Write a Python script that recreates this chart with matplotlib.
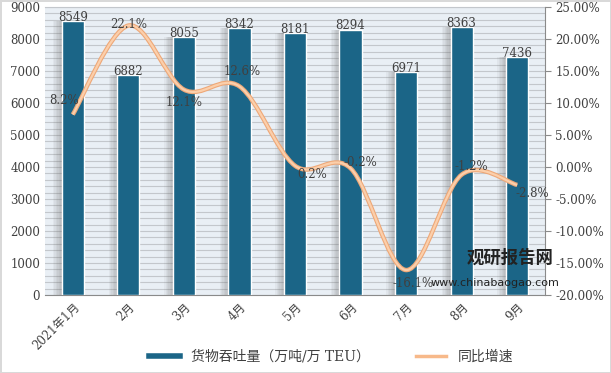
import numpy as np
import matplotlib.pyplot as plt
from matplotlib.path import Path
from matplotlib.patches import PathPatch
from matplotlib.ticker import MultipleLocator, FuncFormatter
from matplotlib.lines import Line2D

plt.rcParams['font.family'] = ['DejaVu Serif', 'Noto Sans CJK SC']

# data
months = ["2021年1月", "2月", "3月", "4月", "5月", "6月", "7月", "8月", "9月"]
throughput = [8549, 6882, 8055, 8342, 8181, 8294, 6971, 8363, 7436]
growth = [8.2, 22.1, 12.1, 12.6, 0.2, -0.2, -16.1, -1.2, -2.8]
growth_labels = ["8.2%", "22.1%", "12.1%", "12.6%", "0.2%", "-0.2%", "-16.1%", "-1.2%", "-2.8%"]

# label offsets in points (dx, dy) for the growth labels
label_offsets = [(-6, 10), (0, 1), (0, -9), (2, 11), (12, -6), (7, 4), (5, -10), (7, 6), (11, -6)]

bar_color = '#1b6587'
line_color = '#f7b98a'
text_color = '#404040'

fig = plt.figure(figsize=(6.11, 3.73), dpi=100)
ax = fig.add_axes([45 / 611, 1 - 295 / 373, 500 / 611, 288 / 373])
x = np.arange(len(months))

ax.set_facecolor('#e9eff5')
ax.set_xlim(-0.5, len(months) - 0.5)
ax.set_ylim(0, 9000)
ax.yaxis.set_major_locator(MultipleLocator(1000))
ax.yaxis.set_minor_locator(MultipleLocator(200))
ax.grid(which='both', axis='y', color='#c3c7cc', lw=0.8)
ax.set_axisbelow(True)

# soft shadow to the left of each bar
for k in range(6):
    ax.bar(x - 0.03 - k * 0.025, throughput, width=0.4, color='#6d6d6d', alpha=0.07, lw=0, zorder=2)
ax.bar(x, throughput, width=0.4, color=bar_color, edgecolor='white', lw=1, zorder=3)

for xi, v in zip(x, throughput):
    ax.annotate(str(v), (xi, v), xytext=(0, -2), textcoords='offset points',
                ha='center', va='bottom', fontsize=8.5, color=text_color, zorder=6)

for s in ['left', 'right']:
    ax.spines[s].set_visible(False)
ax.spines['top'].set_color('#c3c7cc')
ax.spines['bottom'].set_color('#8a8a8a')
ax.tick_params(axis='y', length=0, labelsize=8.5, labelcolor=text_color, which='both')
ax.set_xticks(x)
ax.set_xticklabels(months, rotation=45, ha='right', rotation_mode='anchor', fontsize=8.5, color=text_color)
ax.tick_params(axis='x', length=0, pad=4)

# growth line, smoothed with bezier segments through the points
ax2 = ax.twinx()
ax2.set_ylim(-20, 25)
ax2.yaxis.set_major_locator(MultipleLocator(5))
ax2.yaxis.set_major_formatter(FuncFormatter(lambda v, p: "%.2f%%" % v))
ax2.tick_params(axis='y', length=4, color='#8a8a8a', labelsize=8.5, labelcolor=text_color)
for s in ['left', 'top', 'bottom']:
    ax2.spines[s].set_visible(False)
ax2.spines['right'].set_color('#8a8a8a')

pts = np.column_stack([x, growth]).astype(float)
verts = [pts[0]]
codes = [Path.MOVETO]
n = len(pts)
for i in range(n - 1):
    p_prev = pts[max(i - 1, 0)]
    p_next2 = pts[min(i + 2, n - 1)]
    c1 = pts[i] + (pts[i + 1] - p_prev) / 6.0
    c2 = pts[i + 1] - (p_next2 - pts[i]) / 6.0
    verts += [c1, c2, pts[i + 1]]
    codes += [Path.CURVE4] * 3
path = Path(verts, codes)
ax2.add_patch(PathPatch(path, fill=False, edgecolor='#eea878', lw=3.2, zorder=4))
ax2.add_patch(PathPatch(path, fill=False, edgecolor='#fbcfab', lw=1.6, zorder=5))

for xi, v, lab, off in zip(x, growth, growth_labels, label_offsets):
    ax2.annotate(lab, (xi, v), xytext=off, textcoords='offset points',
                 ha='center', va='center', fontsize=8.5, color=text_color, zorder=6)

# watermark
fig.text(0.835, 0.31, "观研报告网", ha='center', va='center', fontsize=12.5,
         fontweight='bold', color='#222222', family=['Noto Sans CJK SC'], zorder=10)
fig.text(0.81, 0.241, "www.chinabaogao.com", ha='center', va='center', fontsize=8,
         color='#222222', family=['DejaVu Sans'], zorder=10)

handles = [Line2D([0], [0], color=bar_color, lw=4),
           Line2D([0], [0], color=line_color, lw=2.5)]
fig.legend(handles, ["货物吞吐量（万吨/万 TEU）", "同比增速"], loc='center',
           bbox_to_anchor=(0.542, 0.043), ncol=2, frameon=False, fontsize=10,
           handlelength=2.2, columnspacing=3.3, labelcolor=text_color)

fig.patch.set_edgecolor('#d9d9d9')
fig.patch.set_linewidth(1)
fig.savefig('out.png', dpi=100)
